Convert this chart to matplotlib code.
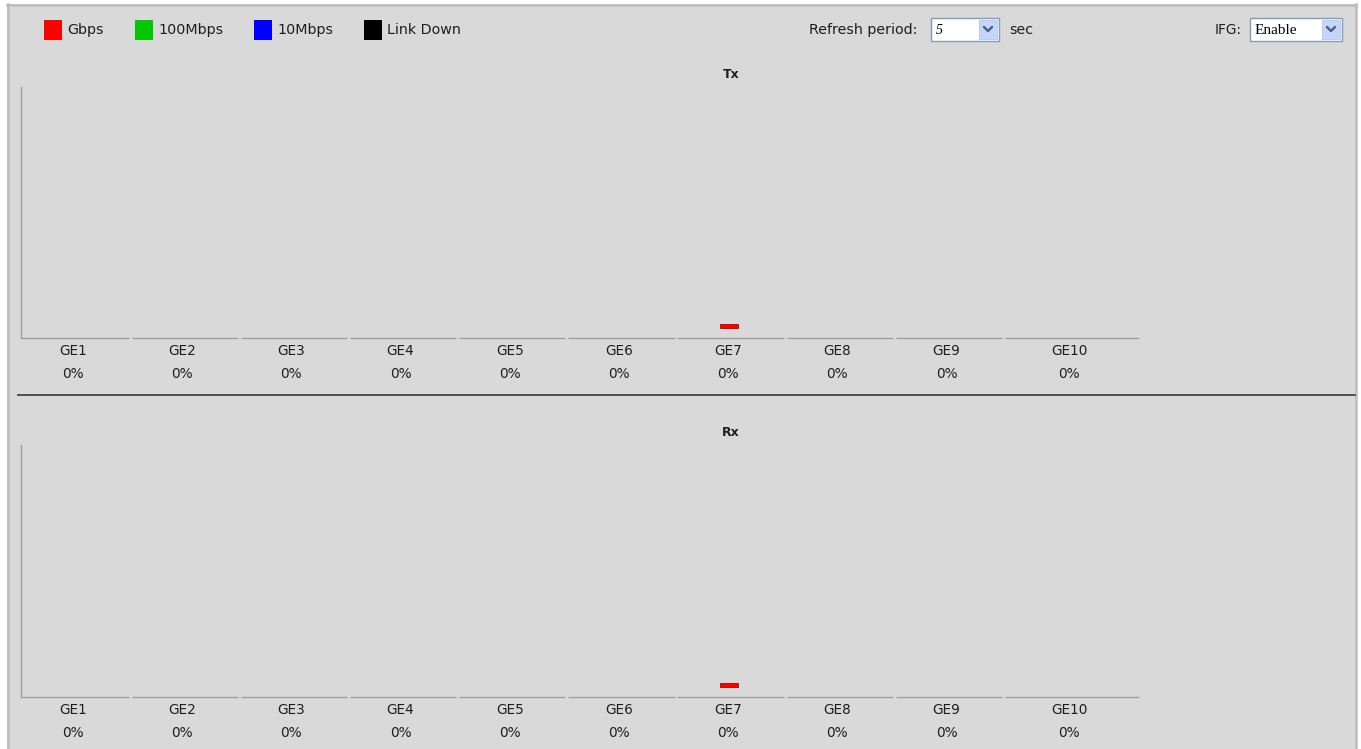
import matplotlib
matplotlib.use("Agg")
import matplotlib.pyplot as plt
from matplotlib.patches import Rectangle
from matplotlib.transforms import ScaledTranslation, blended_transform_factory

# ---------------- data ----------------
ports = ["GE1", "GE2", "GE3", "GE4", "GE5", "GE6", "GE7", "GE8", "GE9", "GE10"]
tx_util = [0, 0, 0, 0, 0, 0, 0, 0, 0, 0]
rx_util = [0, 0, 0, 0, 0, 0, 0, 0, 0, 0]
# small floating activity bar drawn by the switch UI (Gbps link on GE7)
tx_bar_base = [0, 0, 0, 0, 0, 0, 4.0, 0, 0, 0]
tx_bar_len = [0, 0, 0, 0, 0, 0, 1.6, 0, 0, 0]
rx_bar_base = [0, 0, 0, 0, 0, 0, 4.0, 0, 0, 0]
rx_bar_len = [0, 0, 0, 0, 0, 0, 1.6, 0, 0, 0]
port_speed = ["", "", "", "", "", "", "Gbps", "", "", ""]
legend_labels = ["Gbps", "100Mbps", "10Mbps", "Link Down"]
legend_colors = ["#ff0000", "#00c800", "#0000ff", "#000000"]
speed_color = dict(zip(legend_labels, legend_colors))
refresh_value = "5"
ifg_value = "Enable"

W, H = 1361, 749
BG = "#d9d9d9"
fig = plt.figure(figsize=(W / 100, H / 100), dpi=100)
fig.patch.set_facecolor("white")

FONT = "DejaVu Sans"
plt.rcParams["font.family"] = [FONT]
TXT = "#1e1e1e"

# background / decoration axes in pixel coordinates
bg = fig.add_axes([0, 0, 1, 1])
bg.set_xlim(0, W)
bg.set_ylim(H, 0)
bg.axis("off")
bg.add_patch(Rectangle((7, 4), 1349, 760, facecolor=BG, edgecolor="none", zorder=0))
bg.plot([7, 1356], [4.5, 4.5], color="#bdbdbd", lw=1.8, zorder=1)
bg.plot([7.8, 7.8], [4, H], color="#bdbdbd", lw=1.8, zorder=1)
bg.plot([1356, 1356], [4, H], color="#bdbdbd", lw=1.8, zorder=1)
# separator between Tx and Rx
bg.plot([18, 1355], [395, 395], color="#444444", lw=1.3, zorder=1)

# legend
leg_x = [44, 135, 254, 364]
for lx, lab, col in zip(leg_x, legend_labels, legend_colors):
    bg.add_patch(Rectangle((lx, 20), 18, 20, facecolor=col, edgecolor="none", zorder=2))
    bg.text(lx + 23, 30, lab, fontsize=10.3, va="center", ha="left", color=TXT, family=FONT)

# refresh period widget
bg.text(809, 30, "Refresh period:", fontsize=10.3, va="center", ha="left", color=TXT, family=FONT)
bg.add_patch(Rectangle((931, 18), 68, 23, facecolor="white", edgecolor="#7f9db9", lw=1, zorder=2))
bg.add_patch(Rectangle((979, 20), 18, 19, facecolor="#c6d6fb", edgecolor="#b4c6ef", lw=0.6, zorder=3))
bg.plot([984, 988, 992], [27, 31, 27], color="#4d6185", lw=1.8, zorder=4, solid_capstyle="round")
bg.text(936, 30, refresh_value, fontsize=10, va="center", ha="left", color="black",
        family="Liberation Serif", style="italic", zorder=4)
bg.text(1009, 30, "sec", fontsize=10.3, va="center", ha="left", color=TXT, family=FONT)

# IFG widget
bg.text(1215, 30, "IFG:", fontsize=9.8, va="center", ha="left", color=TXT, family=FONT)
bg.add_patch(Rectangle((1250, 18), 92, 23, facecolor="white", edgecolor="#7f9db9", lw=1, zorder=2))
bg.add_patch(Rectangle((1322, 20), 18, 19, facecolor="#c6d6fb", edgecolor="#b4c6ef", lw=0.6, zorder=3))
bg.plot([1327, 1331, 1335], [27, 31, 27], color="#4d6185", lw=1.8, zorder=4, solid_capstyle="round")
bg.text(1255, 30, ifg_value, fontsize=11, va="center", ha="left", color="black",
        family="Liberation Serif", zorder=4)

# ---------------- charts ----------------
widths = [1.0] * 9 + [1.25]
edges = [sum(widths[:i]) for i in range(len(widths) + 1)]
centers = [(edges[i] + edges[i + 1]) / 2 for i in range(len(widths))]


def make_chart(top_px, bottom_px, title, title_y, util, base, length):
    x0, x1 = 21, 1140
    ax = fig.add_axes([x0 / W, 1 - bottom_px / H, (x1 - x0) / W, (bottom_px - top_px) / H])
    ax.set_facecolor("none")
    ax.set_xlim(0, edges[-1])
    ax.set_ylim(0, 100)
    for s in ["top", "right", "bottom"]:
        ax.spines[s].set_visible(False)
    ax.spines["left"].set_color("#a0a0a0")
    ax.spines["left"].set_linewidth(1.0)
    ax.set_xticks([])
    ax.set_yticks([])
    # baseline segments per port
    gap = 0.013
    for i in range(len(ports)):
        ax.plot([edges[i] + (gap if i else 0), edges[i + 1] - gap], [0, 0],
                color="#9a9a9a", lw=0.9, clip_on=False, solid_capstyle="butt")
    # bars
    for i, c in enumerate(centers):
        if length[i] > 0:
            col = speed_color.get(port_speed[i], "#ff0000")
            ax.bar(c - 0.015, length[i], bottom=base[i], width=0.16, color=col,
                   edgecolor="#b40000", linewidth=0.6)
    trans = blended_transform_factory(ax.transData, ax.transAxes)
    for i, (c, p) in enumerate(zip(centers, ports)):
        t1 = trans + ScaledTranslation(-2.5 / 100, -13 / 100, fig.dpi_scale_trans)
        t2 = trans + ScaledTranslation(-2.5 / 100, -36 / 100, fig.dpi_scale_trans)
        ax.text(c, 0, p, transform=t1, ha="center", va="center", fontsize=9.8, color=TXT)
        ax.text(c, 0, f"{util[i]}%", transform=t2, ha="center", va="center", fontsize=9.8, color=TXT)
    bg.text(731, title_y, title, fontsize=9, fontweight="bold", ha="center", va="center", color=TXT)
    return ax


make_chart(87, 338, "Tx", 74, tx_util, tx_bar_base, tx_bar_len)
make_chart(445, 697, "Rx", 433, rx_util, rx_bar_base, rx_bar_len)

fig.savefig("out.png", dpi=100, facecolor=fig.get_facecolor())
